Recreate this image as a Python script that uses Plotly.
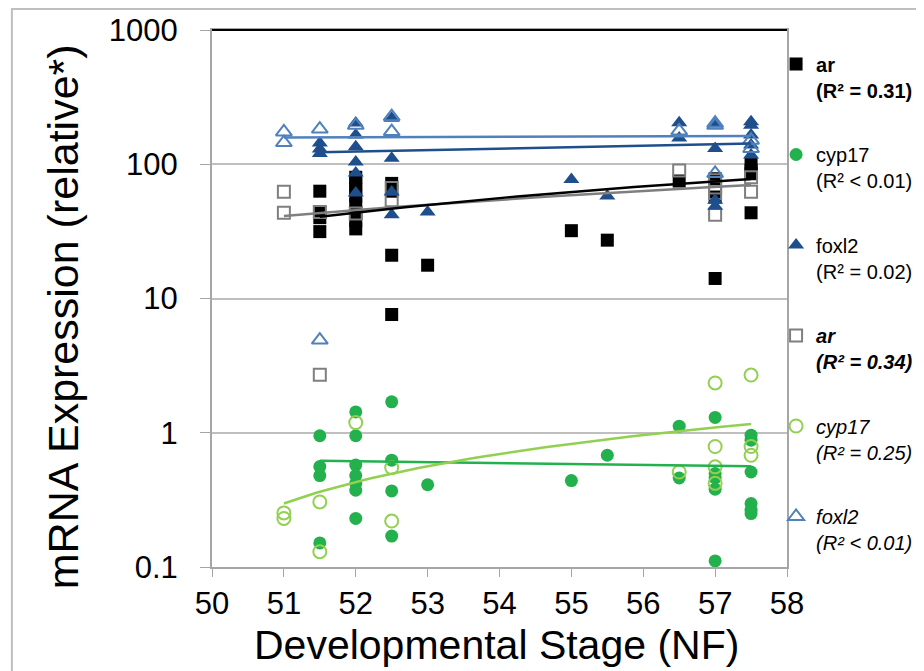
import numpy as np
import plotly.graph_objects as go

# ---------------- data ----------------
ar_f_x = [51.5, 51.5, 51.5, 51.5, 52, 52, 52, 52, 52, 52, 52, 52, 52.5, 52.5, 52.5, 52.5, 53, 55, 55.5, 56.5, 57, 57, 57, 57.5, 57.5, 57.5, 57.5]
ar_f_y = [63, 44, 40, 31.5, 80, 72, 65, 58, 50, 44, 38, 33, 72, 63, 21, 7.6, 17.7, 32, 27.2, 75, 78, 57, 14.1, 100, 90, 85, 43.5]

ar_o_x = [51, 51, 51.5, 51.5, 52, 52.5, 52.5, 56.5, 57, 57, 57, 57, 57.5, 57.5]
ar_o_y = [62.5, 43.5, 44, 2.7, 43, 66.6, 54, 90, 76, 67, 61, 42, 80, 62.5]

fox_f_x = [51.5, 51.5, 51.5, 52, 52, 52, 52, 52, 52, 52.5, 52.5, 52.5, 52.5, 53, 55, 55.5, 56.5, 56.5, 57, 57, 57, 57, 57.5, 57.5, 57.5, 57.5, 57.5]
fox_f_y = [144, 130, 120, 203, 165, 135, 104, 86, 61, 220, 111, 62, 42, 44, 77, 58, 204, 157, 200, 131, 54, 48.7, 207, 195, 165, 139, 117]

fox_o_x = [51, 51, 51.5, 51.5, 52, 52.5, 52.5, 56.5, 57, 57, 57, 57.5, 57.5]
fox_o_y = [174, 145, 183, 4.9, 195, 226, 175, 177, 202, 195, 85.5, 151, 131]

cyp_f_x = [51.5, 51.5, 51.5, 51.5, 52, 52, 52, 52, 52, 52, 52, 52.5, 52.5, 52.5, 52.5, 53, 55, 55.5, 56.5, 56.5, 57, 57, 57, 57, 57, 57.5, 57.5, 57.5, 57.5, 57.5, 57.5]
cyp_f_y = [0.95, 0.56, 0.48, 0.151, 1.43, 0.95, 0.574, 0.48, 0.42, 0.373, 0.23, 1.70, 0.625, 0.369, 0.17, 0.41, 0.44, 0.68, 1.12, 0.46, 1.30, 0.497, 0.46, 0.38, 0.111, 0.96, 0.88, 0.51, 0.297, 0.265, 0.25]

cyp_o_x = [51, 51, 51.5, 51.5, 52, 52.5, 52.5, 56.5, 57, 57, 57, 57, 57.5, 57.5, 57.5]
cyp_o_y = [0.253, 0.23, 0.305, 0.13, 1.19, 0.55, 0.22, 0.51, 2.35, 0.79, 0.557, 0.42, 2.69, 0.79, 0.68]

# linear trendlines (values at the ends of each fitted range)
ar_f_fit = ([51.5, 57.5], [40.6, 77.6])
ar_o_fit = ([51, 57.5], [41.1, 70.0])
fox_f_fit = ([51.5, 57.5], [122.7, 143.0])
fox_o_fit = ([51, 57.5], [158.5, 162.0])
cyp_f_fit = ([51.5, 57.5], [0.618, 0.564])
cyp_o_fit = ([51, 57.5], [0.297, 1.16])

legend_names = [
    "<b>ar</b><br><b>(R² = 0.31)</b>",
    "cyp17<br>(R² < 0.01)",
    "foxl2<br>(R² = 0.02)",
    "<b><i>ar</i></b><br><b><i>(R² = 0.34)</i></b>",
    "<i>cyp17</i><br><i>(R² = 0.25)</i>",
    "<i>foxl2</i><br><i>(R² < 0.01)</i>",
]

x_title = "Developmental Stage (NF)"
y_title = "mRNA Expression (relative*)"

C_BLACK = "#000000"
C_GRAY = "#7f7f7f"
C_GREEN = "#22b14c"
C_LGREEN = "#92d050"
C_DBLUE = "#1f4e8c"
C_LBLUE = "#4f81bd"

FONT = "Liberation Sans, Arial, sans-serif"

fig = go.Figure()

def pts(x, y, name, rank, symbol, color, open_=False, size=13):
    if open_:
        marker = dict(symbol=symbol, size=size, color=color,
                      line=dict(color=color, width=2))
    else:
        marker = dict(symbol=symbol, size=size, color=color, line=dict(width=0))
    fig.add_trace(go.Scatter(x=x, y=y, mode="markers", name=name, legendrank=rank,
                             legendgroup=name, marker=marker, cliponaxis=False))

def trend(fit, color):
    xs = np.linspace(fit[0][0], fit[0][1], 60)
    ys = np.interp(xs, fit[0], fit[1])
    fig.add_trace(go.Scatter(x=xs, y=ys, mode="lines", showlegend=False,
                             line=dict(color=color, width=2.5), hoverinfo="skip"))

pts(ar_f_x, ar_f_y, legend_names[0], 1, "square", C_BLACK)
pts(ar_o_x, ar_o_y, legend_names[3], 4, "square-open", C_GRAY, True, 12)
pts(fox_f_x, fox_f_y, legend_names[2], 3, "triangle-up", C_DBLUE, size=14)
pts(fox_o_x, fox_o_y, legend_names[5], 6, "triangle-up-open", C_LBLUE, True, 14)
pts(cyp_f_x, cyp_f_y, legend_names[1], 2, "circle", C_GREEN)
pts(cyp_o_x, cyp_o_y, legend_names[4], 5, "circle-open", C_LGREEN, True, 13)

trend(ar_o_fit, C_GRAY)
trend(ar_f_fit, C_BLACK)
trend(fox_o_fit, C_LBLUE)
trend(fox_f_fit, C_DBLUE)
trend(cyp_f_fit, C_GREEN)
trend(cyp_o_fit, C_LGREEN)

W, H = 916, 663
L, T = 204, 22
PW, PH = 575, 537

fig.update_layout(
    width=W, height=H,
    margin=dict(l=L, r=W - L - PW, t=T, b=H - T - PH, autoexpand=False),
    paper_bgcolor="white", plot_bgcolor="white",
    font=dict(family=FONT, color="black"),
    showlegend=True,
    legend=dict(x=0.981, y=0.973, xanchor="left", yanchor="top",
                font=dict(size=20, family=FONT, color="black"),
                tracegroupgap=35.5, valign="top", itemwidth=30,
                bgcolor="rgba(0,0,0,0)", traceorder="grouped"),
    xaxis=dict(range=[50, 58], dtick=1, tick0=50, showgrid=False, automargin=False,
               ticks="outside", ticklen=8, tickcolor="#a6a6a6", tickwidth=1,
               showline=True, linecolor="#a6a6a6", linewidth=2, mirror=True,
               tickfont=dict(size=31, family=FONT),
               zeroline=False),
    yaxis=dict(type="log", range=[-1, 3], automargin=False,
               tickvals=[0.1, 1, 10, 100, 1000], ticktext=["0.1", "1", "10", "100", "1000"],
               showgrid=True, gridcolor="#bfbfbf", gridwidth=1.5,
               ticks="outside", ticklen=10, tickcolor="#a6a6a6", ticklabelstandoff=16,
               showline=True, linecolor="#a6a6a6", linewidth=2, mirror=True,
               tickfont=dict(size=31, family=FONT),
               zeroline=False),
    annotations=[
        dict(text=x_title, xref="paper", yref="paper", x=0.4955, y=-0.145,
             xanchor="center", yanchor="middle", showarrow=False,
             font=dict(size=41, family=FONT, color="black")),
        dict(text=y_title, xref="paper", yref="paper", x=(55 - L) / PW, y=0.467,
             xanchor="center", yanchor="middle", showarrow=False, textangle=-90,
             font=dict(size=43, family=FONT, color="black")),
    ],
    shapes=[
        dict(type="line", xref="paper", yref="paper", x0=0, x1=1, y0=1, y1=1,
             line=dict(color="black", width=2)),
        dict(type="rect", xref="paper", yref="paper", x0=-0.348, x1=1.4, y0=-0.4, y1=1.039,
             line=dict(color="#bfbfbf", width=2), layer="below"),
    ],
)

fig.write_html("out.html")
